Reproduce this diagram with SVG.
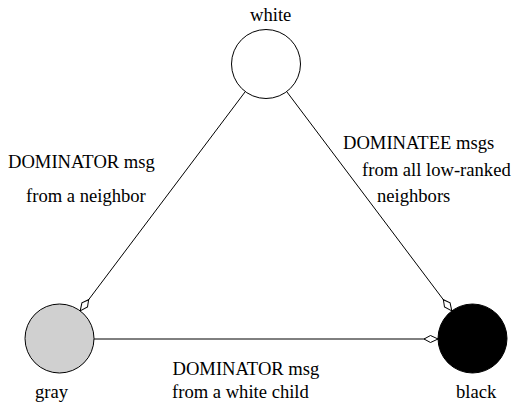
<svg xmlns="http://www.w3.org/2000/svg" width="514" height="408" viewBox="0 0 514 408">
<style>
text{font-family:"Liberation Serif","Times New Roman",serif;font-size:18.6px;fill:#000}
.node{stroke:#000;stroke-width:1}
.edge{stroke:#000;stroke-width:1;fill:none;marker-end:url(#kite)}
</style>
<defs>
<marker id="kite" markerUnits="userSpaceOnUse" viewBox="-15 -5 17 10" refX="0" refY="0" markerWidth="17" markerHeight="10" orient="auto">
<path d="M0,0 L-7.5,-3.5 L-14,0 L-7.5,3.5 Z" fill="#fff" stroke="#000" stroke-width="1"/>
</marker>
</defs>
<rect width="514" height="408" fill="#fff"/>
<g id="connectors">
<line class="edge" x1="245.3" y1="91.6" x2="80.2" y2="310.9"/>
<line class="edge" x1="286.7" y1="91.6" x2="451.8" y2="310.9"/>
<line class="edge" x1="94" y1="339" x2="438" y2="339"/>
</g>
<g id="white">
<circle class="node" cx="266" cy="64" r="34.5" fill="#fff"/>
<text x="250" y="21">white</text>
</g>
<g id="gray">
<circle class="node" cx="59.5" cy="338.5" r="34.5" fill="#d0d0d0"/>
<text x="35" y="398">gray</text>
</g>
<g id="black">
<circle class="node" cx="472.5" cy="338.5" r="34.5" fill="#000"/>
<text x="456" y="398">black</text>
</g>
<g id="labels">
<text x="8" y="167.5">DOMINATOR msg</text>
<text x="26" y="202">from a neighbor</text>
<text x="343" y="149">DOMINATEE msgs</text>
<text x="362" y="175.5">from all low-ranked</text>
<text x="377" y="202">neighbors</text>
<text x="172.5" y="375">DOMINATOR msg</text>
<text x="172" y="398">from a white child</text>
</g>
</svg>
